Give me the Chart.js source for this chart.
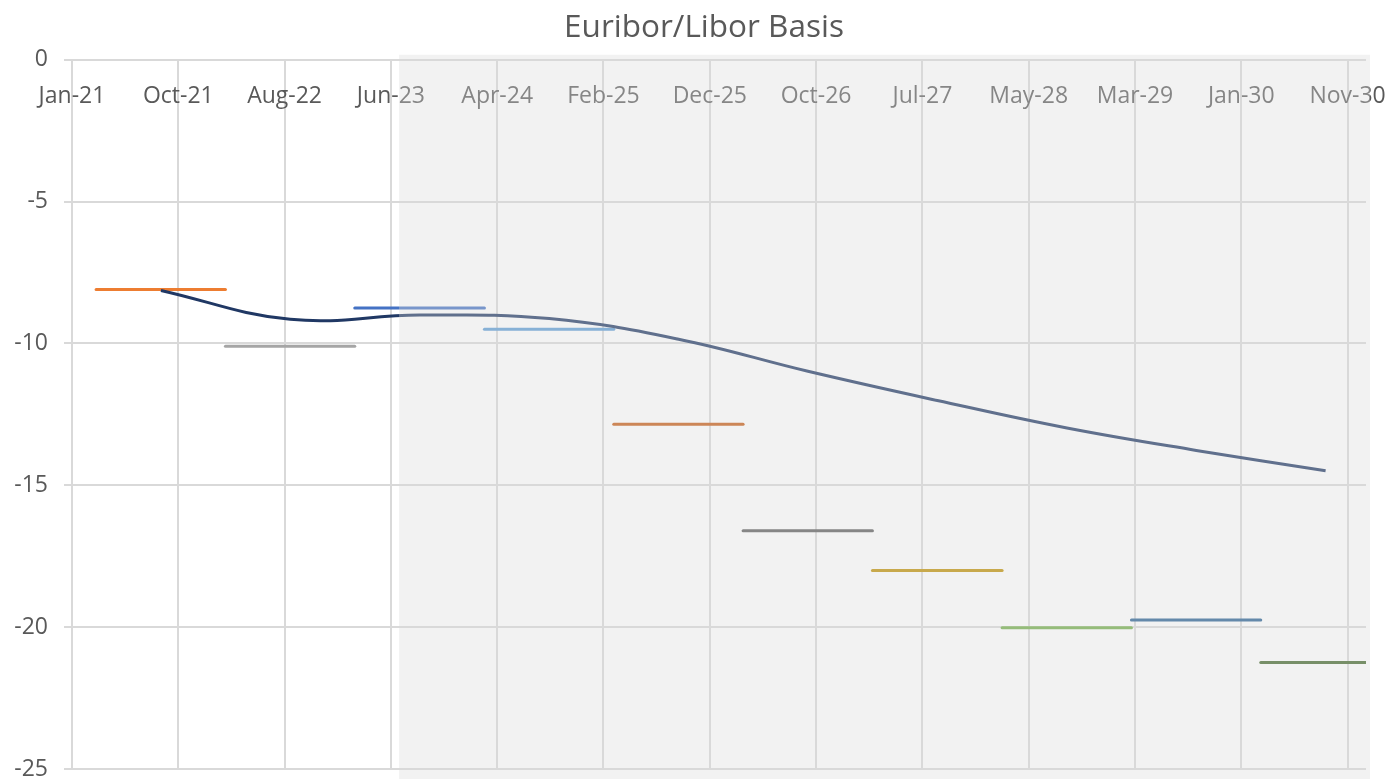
<!DOCTYPE html>
<html lang="en">
<head>
  <meta charset="UTF-8" />
  <title>Euribor/Libor Basis</title>
  <script src="https://cdn.jsdelivr.net/npm/chart.js"></script>
  <style>
    body { margin: 0; background: #fff; }
    #wrap { width: 1392px; height: 779px; position: relative; }
  </style>
</head>
<body>
  <div id="wrap"><canvas id="chart"></canvas></div>

  <script>
    // axis range and labels (date axis, one label every 300 days)
    const axisStart = '2021-01-01';
    const axisEnd = '2031-01-01';
    const tickStepDays = 300;
    const tickLabels = ['Jan-21', 'Oct-21', 'Aug-22', 'Jun-23', 'Apr-24', 'Feb-25', 'Dec-25',
                        'Oct-26', 'Jul-27', 'May-28', 'Mar-29', 'Jan-30', 'Nov-30'];

    // one-year forward periods
    const periodStarts = ['2021-03-10', '2022-03-10', '2023-03-10', '2024-03-10', '2025-03-10',
                          '2026-03-10', '2027-03-10', '2028-03-10', '2029-03-10', '2030-03-10'];
    const periodEnds   = ['2022-03-10', '2023-03-10', '2024-03-10', '2025-03-10', '2026-03-10',
                          '2027-03-10', '2028-03-10', '2029-03-10', '2030-03-10', '2031-03-10'];
    const periodValues = [-8.1, -10.1, -8.75, -9.5, -12.85, -16.6, -18.0, -20.02, -19.75, -21.25];
    const periodColors = ['#ed7d31', '#a5a5a5', '#4472c4', '#5b9bd5', '#c55a11',
                          '#5a5a5a', '#bf9000', '#70ad47', '#255e91', '#43682b'];

    // smoothed basis curve
    const curveDates  = ['2021-09-09', '2022-09-09', '2023-09-09', '2024-09-09', '2025-09-09',
                         '2026-09-09', '2027-09-09', '2028-09-09', '2029-09-09', '2030-09-09'];
    const curveValues = [-8.13, -9.15, -9.0, -9.12, -9.85, -10.98, -12.01, -12.98, -13.77, -14.49];

    const shadeStart = '2023-07-13';

    const dayOf = s => (Date.parse(s) - Date.parse(axisStart)) / 864e5;

    const FONT = "'Open Sans', sans-serif";
    const TICK_SIZE = 23;

    // y labels are mirrored (so they are not clipped) and pushed back left of the axis
    const meas = document.createElement('canvas').getContext('2d');
    meas.font = TICK_SIZE + 'px ' + FONT;
    const widestY = Math.max(...['0', '-5', '-10', '-15', '-20', '-25'].map(t => meas.measureText(t).width));

    const datasets = [{
      data: curveDates.map((d, i) => ({ x: dayOf(d), y: curveValues[i] })),
      borderColor: '#203864',
      borderWidth: 3,
      tension: 0.4,
      pointRadius: 0
    }];
    periodStarts.forEach((s, i) => {
      datasets.push({
        data: [{ x: dayOf(s), y: periodValues[i] }, { x: dayOf(periodEnds[i]), y: periodValues[i] }],
        borderColor: periodColors[i],
        borderWidth: 3,
        borderCapStyle: 'round',
        pointRadius: 0
      });
    });

    // translucent band over the forecast part
    const shadePlugin = {
      id: 'shade',
      afterDraw(chart) {
        const { ctx, chartArea } = chart;
        const x0 = chart.scales.x.getPixelForValue(dayOf(shadeStart));
        ctx.save();
        ctx.fillStyle = 'rgba(218, 218, 218, 0.35)';
        ctx.fillRect(x0, chartArea.top - 5, chartArea.right + 4 - x0, chart.height - chartArea.top + 5);
        ctx.restore();
      }
    };

    Chart.defaults.font.family = FONT;

    new Chart(document.getElementById('chart'), {
      type: 'line',
      data: { datasets },
      plugins: [shadePlugin],
      options: {
        responsive: true,
        maintainAspectRatio: false,
        animation: false,
        layout: { padding: { top: 9, left: 42, right: 26, bottom: 10 } },
        plugins: {
          legend: { display: false },
          tooltip: { enabled: false },
          title: {
            display: true,
            text: 'Euribor/Libor Basis',
            color: '#595959',
            font: { size: 31.5, weight: 'normal', lineHeight: 1.2 },
            padding: { top: 0, bottom: 13 }
          }
        },
        scales: {
          x: {
            type: 'linear',
            position: 'top',
            min: 0,
            max: dayOf(axisEnd),
            afterBuildTicks: s => { s.ticks = tickLabels.map((_, i) => ({ value: i * tickStepDays })); },
            afterFit: s => { s.height = 0; },
            grid: { color: '#d9d9d9', lineWidth: 2, drawTicks: false },
            border: { display: false },
            ticks: {
              mirror: true,
              color: '#595959',
              font: { size: TICK_SIZE, lineHeight: 74 / TICK_SIZE },
              padding: 0,
              maxRotation: 0,
              minRotation: 0,
              autoSkip: false,
              callback: (v, i) => tickLabels[i]
            }
          },
          y: {
            min: -25,
            max: 0,
            afterFit: s => { s.width = 30; },
            grid: { color: '#d9d9d9', lineWidth: 2, tickLength: 8 },
            border: { display: false },
            ticks: {
              stepSize: 5,
              mirror: true,
              crossAlign: 'far',
              color: '#595959',
              font: { size: TICK_SIZE },
              padding: -24 - widestY
            }
          }
        }
      }
    });
  </script>
</body>
</html>
